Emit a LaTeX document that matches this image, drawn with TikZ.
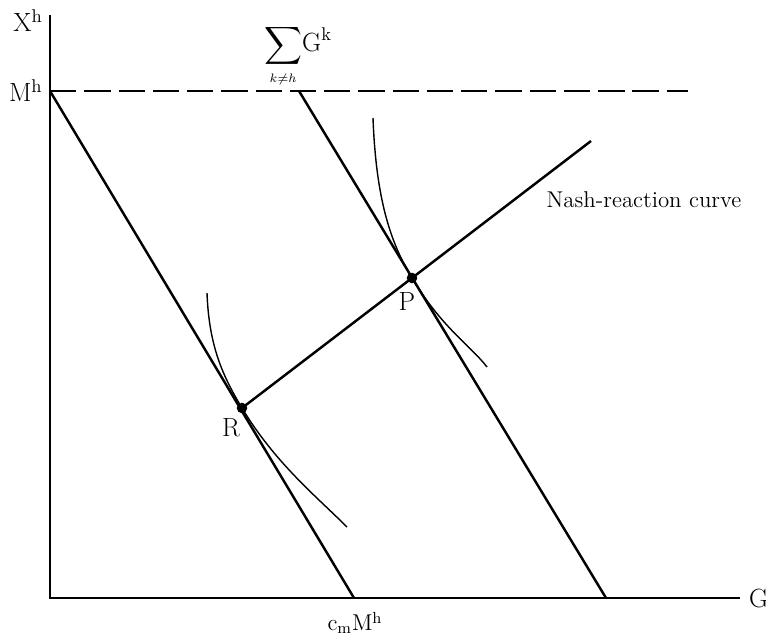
\documentclass[tikz,border=0pt]{standalone}
\usepackage{amsmath,amssymb}
\usetikzlibrary{positioning,calc}

\begin{document}
\begin{tikzpicture}[x=0.02cm, y=0.02cm,
  axis/.style={line width=1.1pt},
  budget/.style={line width=1.4pt},
  indiff/.style={line width=0.8pt},
  lbl/.style={font=\fontsize{15}{18}\selectfont, inner sep=1pt},
  small/.style={font=\fontsize{13}{16}\selectfont, inner sep=1pt},
  dot/.style={circle, fill, inner sep=0pt, minimum size=6pt}]
\useasboundingbox (-50,-38) rectangle (716,598);
% axes
\coordinate (O) at (0,0);
\coordinate (ytop) at (0,583);
\coordinate (xend) at (690,0);
\draw[axis] (ytop) -- (O) -- (xend);
\node[lbl] (xh) at (-22,577) {X$^{\text{h}}$};
\node[lbl, right=4pt of xend] (g) {G};
% endowment level
\coordinate (Mh) at (0,507);
\coordinate (dashend) at (638,507);
\draw[axis, dash pattern=on 15pt off 4.5pt] (Mh) -- (dashend);
\node[lbl, left=3pt of Mh] (mh) {M$^{\text{h}}$};
% budget lines
\coordinate (cm) at (304,0);
\coordinate (sumtop) at (249,507);
\coordinate (sumbot) at (556,0);
\draw[budget] (Mh) -- (cm);
\draw[budget] (sumtop) -- (sumbot);
\node[small] (cmmh) at (305,-25) {c$_{\text{m}}$M$^{\text{h}}$};
\node[lbl] (sumlbl) at (248,542) {$\displaystyle\sum_{\scriptscriptstyle k\neq h}\!\text{G}^{\text{k}}$};
% Nash-reaction curve
\coordinate (R) at (192,190);
\coordinate (P) at (362,320);
\coordinate (nashend) at (541,457);
\draw[budget] (R) -- (P) -- (nashend);
\node[small] (nash) at (594,398) {Nash-reaction curve};
% indifference curves
\draw[indiff] (323,480) .. controls (326,400) and (340,356) .. (P)
  .. controls (392,270) and (420,253) .. (437,231);
\draw[indiff] (157,305) .. controls (159,250) and (174,220) .. (R)
  .. controls (225,135) and (267,101) .. (297,71);
\node[dot] (pdot) at (P) {};
\node[dot] (rdot) at (R) {};
\node[lbl] (plbl) at (357,297) {P};
\node[lbl] (rlbl) at (181,170) {R};
\end{tikzpicture}
\end{document}
